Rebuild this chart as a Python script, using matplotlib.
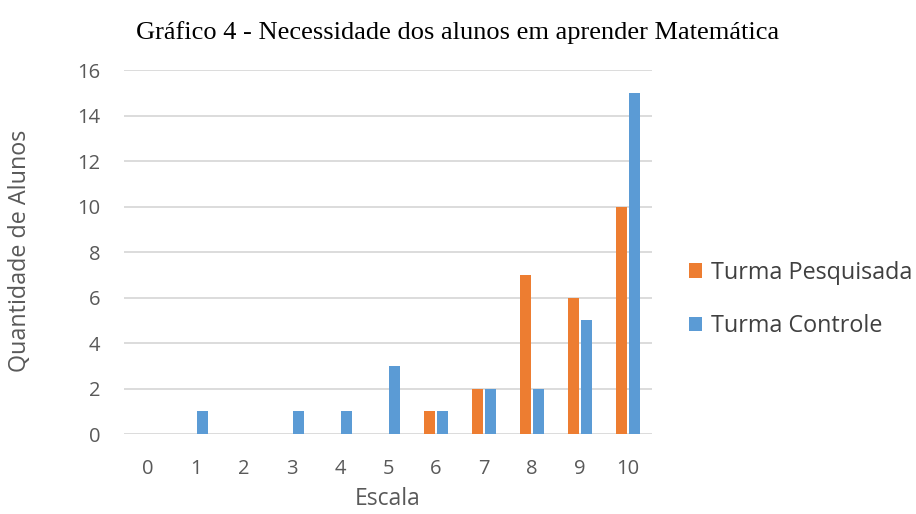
import matplotlib.pyplot as plt
import numpy as np

escala = list(range(11))
pesquisada = [0, 0, 0, 0, 0, 0, 1, 2, 7, 6, 10]
controle = [0, 1, 0, 1, 1, 3, 1, 2, 2, 5, 15]

laranja = '#ED7D31'
azul = '#5B9BD5'
cinza = '#595959'

fig = plt.figure(figsize=(9.16, 5.14), dpi=100)
ax = fig.add_axes([0.1354, 0.1556, 0.5764, 0.7082])

x = np.array(escala)
w = 0.23
ax.bar(x - 0.14, pesquisada, width=w, color=laranja, label='Turma Pesquisada', zorder=3)
ax.bar(x + 0.14, controle, width=w, color=azul, label='Turma Controle', zorder=3)

ax.set_xlim(-0.5, 10.5)
ax.set_ylim(0, 16)
ax.set_yticks(range(0, 17, 2))
ax.set_xticks(x)
ax.set_xticklabels([str(v) for v in escala])
ax.grid(axis='y', color='#D9D9D9', linewidth=1.3, zorder=0)
for s in ax.spines.values():
    s.set_visible(False)
ax.tick_params(length=0, labelsize=14.5, labelcolor=cinza)
ax.tick_params(axis='y', pad=17)
ax.tick_params(axis='x', pad=18)
for lab in ax.get_xticklabels() + ax.get_yticklabels():
    lab.set_family('Open Sans')

fig.text(0.4236, 0.006, 'Escala', fontsize=16.5, color=cinza, family='Open Sans',
         ha='center', va='bottom')
fig.text(0.009, 0.511, 'Quantidade de Alunos', fontsize=16.8, color=cinza,
         family='Open Sans', rotation=90, ha='left', va='center')

fig.text(0.5, 0.936, 'Gráfico 4 - Necessidade dos alunos em aprender Matemática',
         ha='center', va='center', fontsize=19, family='Liberation Serif')

leg = ax.legend(loc='center left', bbox_to_anchor=(1.03, 0.37), frameon=False,
                prop={'family': 'Open Sans', 'size': 16.8}, handlelength=0.55, handleheight=0.55,
                handletextpad=0.4, labelspacing=1.25)
for t in leg.get_texts():
    t.set_color('#404040')

fig.savefig('out.png', dpi=100)
